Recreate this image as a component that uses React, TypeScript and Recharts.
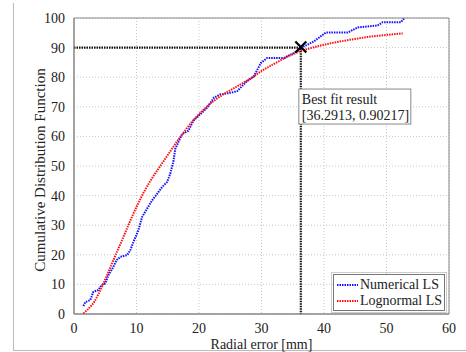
import React from 'react';
import {
  LineChart,
  Line,
  XAxis,
  YAxis,
  CartesianGrid,
  ReferenceArea,
  ReferenceDot,
  Legend,
} from 'recharts';

const xTicks = [0, 10, 20, 30, 40, 50, 60];
const yTicks = [0, 10, 20, 30, 40, 50, 60, 70, 80, 90, 100];

const numericalX = [
  1.5, 1.8, 2.6, 3.1, 3.9, 4.4, 5.0, 5.5, 6.3, 6.8, 7.4, 8.5, 9.0, 9.5, 10.3, 10.9,
  11.7, 12.5, 13.3, 14.1, 14.9, 15.4, 15.9, 16.2, 17.3, 18.3, 19.1, 20.2, 21.3, 22.4,
  23.4, 25.0, 26.1, 27.7, 28.8, 29.9, 30.9, 33.6, 35.2, 36.8, 38.4, 40.3, 43.8, 45.4,
  48.6, 49.4, 52.3, 52.8,
];
const numericalY = [
  2.7, 4.0, 4.7, 7.5, 8.1, 9.8, 10.3, 13.1, 15.9, 18.2, 19.3, 19.9, 21.5, 24.3, 28.3, 32.8,
  35.6, 38.4, 40.6, 42.9, 44.6, 47.4, 51.5, 55.8, 60.8, 61.9, 65.3, 67.5, 69.7, 73.1,
  74.2, 74.7, 75.3, 78.7, 80.4, 84.8, 86.5, 86.5, 88.2, 90.4, 92.1, 95.1, 95.1, 96.8,
  97.5, 98.6, 98.6, 99.8,
];

const lognormalX = [
  1.5, 2.2, 3.1, 3.9, 4.7, 5.5, 6.3, 7.1, 7.9, 8.7, 9.5, 10.3, 11.1, 12.0, 12.7, 13.8,
  15.0, 16.5, 18.0, 19.1, 20.5, 21.8, 23.0, 24.5, 26.0, 27.2, 28.5, 29.9, 32.0, 34.0,
  36.3, 38.0, 40.0, 41.6, 44.0, 47.0, 50.0, 52.6,
];
const lognormalY = [
  0.2, 1.5, 3.6, 6.6, 10.3, 14.2, 18.2, 22.1, 26.0, 30.0, 33.9, 37.5, 40.9, 44.2, 46.6, 50.0,
  53.7, 58.4, 62.6, 65.5, 68.6, 71.1, 73.0, 75.0, 76.8, 78.3, 79.8, 82.0, 84.5, 86.8,
  88.9, 89.9, 91.0, 91.7, 92.6, 93.6, 94.3, 94.8,
];

const bestFitX = [0, 36.2913, 36.2913];
const bestFitY = [90, 90, 0];
const bestFitPoint = { x: 36.2913, y: 90.217 };
const annotationLines = ['Best fit result', '[36.2913, 0.90217]'];
const seriesNames = ['Numerical LS', 'Lognormal LS'];

const numericalData = numericalX.map((x, i) => ({ x, y: numericalY[i] }));
const lognormalData = lognormalX.map((x, i) => ({ x, y: lognormalY[i] }));
const guideData = bestFitX.map((x, i) => ({ x, y: bestFitY[i] }));

const FONT = "'Liberation Serif', 'Times New Roman', Tinos, 'DejaVu Serif', serif";
const BLUE = '#1010ff';
const RED = '#ff1010';

const XMark = (props: any) => {
  const { cx, cy } = props;
  const s = 5.5;
  return (
    <g>
      <line x1={cx - s} y1={cy - s} x2={cx + s} y2={cy + s} stroke="#000" strokeWidth={2.2} />
      <line x1={cx - s} y1={cy + s} x2={cx + s} y2={cy - s} stroke="#000" strokeWidth={2.2} />
    </g>
  );
};

const AnnotationBox = (props: any) => {
  const { cx, cy } = props;
  return (
    <g>
      <rect x={cx - 2} y={cy} width={112} height={35} fill="#fff" stroke="#888" strokeWidth={1} />
      <text x={cx + 1} y={cy + 15} style={{ fontFamily: FONT }} fontSize={14} fill="#222">
        {annotationLines[0]}
      </text>
      <text x={cx + 1} y={cy + 31} style={{ fontFamily: FONT }} fontSize={14} fill="#222">
        {annotationLines[1]}
      </text>
    </g>
  );
};

const LegendContent = () => (
  <div
    style={{
      width: 112,
      height: 37,
      border: '1px solid #777',
      outline: '1px solid #ccc',
      outlineOffset: 1,
      background: '#fff',
      fontFamily: FONT,
      fontSize: 14,
      color: '#222',
      boxSizing: 'border-box',
      padding: '2px 0 0 3px',
      textAlign: 'left',
    }}
  >
    {[BLUE, RED].map((c, i) => (
      <div key={i} style={{ display: 'flex', alignItems: 'center', height: 16 }}>
        <svg width={21} height={4} style={{ marginRight: 2 }}>
          <line x1={0} y1={2} x2={21} y2={2} stroke={c} strokeWidth={2} strokeDasharray="1.5 1" />
        </svg>
        <span style={{ lineHeight: '16px', whiteSpace: 'nowrap' }}>{seriesNames[i]}</span>
      </div>
    ))}
  </div>
);

const tickStyle = { fill: '#222', fontSize: 14, style: { fontFamily: FONT } };

export default function App() {
  return (
    <div style={{ position: 'absolute', left: 0, top: 0, width: 466, height: 352, background: '#fff', fontFamily: FONT }}>
      <div style={{ position: 'absolute', left: 13, top: 3, width: 1, height: 348, background: '#bbb' }} />
      <div style={{ position: 'absolute', left: 13, top: 350, width: 453, height: 1, background: '#bbb' }} />
      <LineChart
        width={466}
        height={352}
        margin={{ top: 18, right: 17, left: 0, bottom: 0 }}
        style={{ position: 'absolute', left: 0, top: 0, fontFamily: FONT }}
      >
        <CartesianGrid stroke="#c8c8c8" strokeDasharray="1 2" />
        <XAxis
          type="number"
          dataKey="x"
          domain={[0, 60]}
          ticks={xTicks}
          height={38}
          stroke="#888"
          tickLine={false}
          tickMargin={3}
          tick={tickStyle}
          label={{
            value: 'Radial error [mm]',
            position: 'insideBottom',
            offset: 3,
            fill: '#222',
            fontSize: 14,
            style: { fontFamily: FONT },
          }}
        />
        <YAxis
          type="number"
          dataKey="y"
          domain={[0, 100]}
          ticks={yTicks}
          width={74}
          stroke="#888"
          tickLine={false}
          tickMargin={3}
          tick={tickStyle}
          label={{
            value: 'Cumulative Distribution Function',
            angle: -90,
            position: 'center',
            dx: 3,
            dy: 4,
            fill: '#222',
            fontSize: 15,
            style: { fontFamily: FONT },
          }}
        />
        <ReferenceArea x1={0} x2={60} y1={0} y2={100} fill="none" stroke="#888" strokeWidth={1} />
        <Line
          data={guideData}
          dataKey="y"
          stroke="#111"
          strokeWidth={2.2}
          strokeDasharray="1.5 1"
          dot={false}
          isAnimationActive={false}
          legendType="none"
        />
        <Line
          data={numericalData}
          dataKey="y"
          name={seriesNames[0]}
          stroke={BLUE}
          strokeWidth={2}
          strokeDasharray="1.5 1"
          dot={false}
          isAnimationActive={false}
        />
        <Line
          data={lognormalData}
          dataKey="y"
          name={seriesNames[1]}
          stroke={RED}
          strokeWidth={2}
          strokeDasharray="1.5 1"
          dot={false}
          isAnimationActive={false}
        />
        <ReferenceDot x={bestFitPoint.x} y={bestFitPoint.y} r={6} shape={XMark} />
        <ReferenceDot x={bestFitPoint.x} y={76} r={1} shape={AnnotationBox} />
        <Legend
          layout="horizontal"
          verticalAlign="middle"
          align="center"
          content={LegendContent}
          wrapperStyle={{ position: 'absolute', left: 333, top: 274, width: 114, height: 37 }}
        />
      </LineChart>
    </div>
  );
}
